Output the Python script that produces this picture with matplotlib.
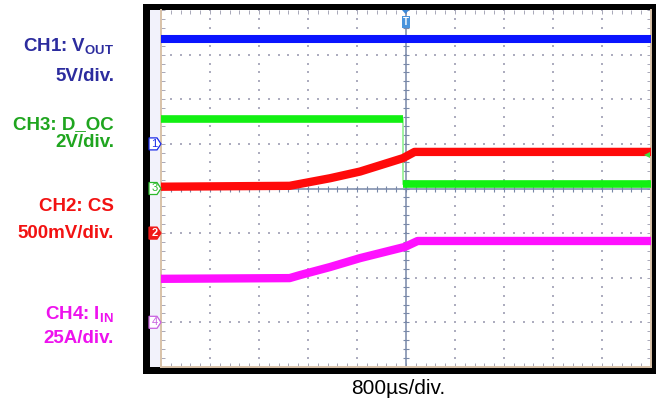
import matplotlib
matplotlib.use("Agg")
import matplotlib.pyplot as plt
import numpy as np
from matplotlib.patches import Rectangle, Polygon

plt.rcParams['font.family'] = ['Liberation Sans', 'DejaVu Sans']
plt.rcParams['mathtext.fontset'] = 'custom'
plt.rcParams['mathtext.rm'] = 'Liberation Sans:bold'
plt.rcParams['mathtext.bf'] = 'Liberation Sans:bold'

# time axis: 800 us/div, 10 div, trigger in the middle
time_per_div = 800
# CH1: VOUT, 5 V/div, ground marker at +1 div
t_ch1 = [-4000, 4000]
v_ch1 = [11.7, 11.7]
# CH3: D_OC, 2 V/div, marker at 0 div
t_ch3_high = [-4000, -48]
v_ch3_high = [3.1, 3.1]
t_ch3_low = [-48, 4000]
v_ch3_low = [0.2, 0.2]
# CH2: CS, 500 mV/div, marker at -1 div
t_ch2 = [-4000, -1900, -1240, -750, -50, 140, 4000]
v_ch2 = [0.52, 0.53, 0.615, 0.69, 0.84, 0.91, 0.91]
# CH4: IIN, 25 A/div, marker at -3 div
t_ch4 = [-4000, -1900, -1730, -1240, -750, -16, 190, 4000]
i_ch4 = [24.4, 24.8, 26.5, 31, 36, 42.3, 45.6, 45.6]

channels = {
    1: dict(offset=1, scale=5, color='#0a14ff', mark='#1a2ae8', fill=False),
    3: dict(offset=0, scale=2, color='#12f012', mark='#2ab82a', fill=False),
    2: dict(offset=-1, scale=0.5, color='#ff0a0a', mark='#f01818', fill=True),
    4: dict(offset=-3, scale=25, color='#ff10ff', mark='#c860e0', fill=False),
}


def to_div(ch, vals):
    c = channels[ch]
    return c['offset'] + np.array(vals) / c['scale']


W, H = 656, 400
fig = plt.figure(figsize=(W / 100, H / 100), dpi=100)


def frect(x0, y0, x1, y1, **kw):
    fig.add_artist(Rectangle((x0 / W, 1 - y1 / H), (x1 - x0) / W, (y1 - y0) / H,
                             transform=fig.transFigure, **kw))


# scope screen frame (behind the axes)
frect(143, 4, 657, 374, color='black', lw=0, zorder=-3)
frect(150, 10, 651, 367, color='white', lw=0, zorder=-2)
frect(150, 10, 161, 367, color='#f2f2fb', lw=0, zorder=-1)

ax = fig.add_axes([161 / W, 1 - 367 / H, 490 / W, 357 / H])
ax.set_xlim(-4000, 4000)
ax.set_ylim(-4, 4)
ax.patch.set_alpha(0)

# graticule dots
grid_col = '#adadbf'
xs_minor = np.arange(-4000, 4001, time_per_div / 5)
ys_minor = np.arange(-4, 4.01, 0.2)
for xm in np.arange(-3200, 3201, time_per_div):
    if xm != 0:
        ax.scatter(np.full(ys_minor.size, xm), ys_minor, s=0.7, marker='s',
                   color=grid_col, lw=0, zorder=1)
for ym in range(-3, 4):
    if ym != 0:
        ax.scatter(xs_minor, np.full(xs_minor.size, ym), s=0.7, marker='s',
                   color=grid_col, lw=0, zorder=1)

# centre cross with ticks
center_col = '#7888a8'
ax.axhline(0, color=center_col, lw=1.1, zorder=2)
ax.axvline(0, color=center_col, lw=1.1, zorder=2)
ax.plot(xs_minor, np.zeros(xs_minor.size), ls='none', marker='|', ms=5,
        mew=0.8, color=center_col, zorder=2)
ax.plot(np.zeros(ys_minor.size), ys_minor, ls='none', marker='_', ms=5,
        mew=0.8, color=center_col, zorder=2)

# edge ticks
ax.set_xticks(np.arange(-4000, 4001, time_per_div))
ax.set_xticks(xs_minor, minor=True)
ax.set_yticks(np.arange(-4, 5, 1))
ax.set_yticks(ys_minor, minor=True)
ax.tick_params(which='both', direction='in', length=3, width=0.7, color='#a8a8b8',
               top=True, right=True, labelbottom=False, labelleft=False)
for side in ['left', 'bottom', 'right']:
    ax.spines[side].set_color('#d9c2a8')
    ax.spines[side].set_linewidth(1.4)
ax.spines['top'].set_visible(False)

# traces
ax.plot(t_ch1, to_div(1, v_ch1), color=channels[1]['color'], lw=5.8,
        solid_capstyle='butt', zorder=4)
ax.plot([t_ch3_high[-1], t_ch3_low[0]], [to_div(3, v_ch3_high)[-1], to_div(3, v_ch3_low)[0]],
        color='#90f090', lw=1.2, zorder=3)
ax.plot(t_ch3_high, to_div(3, v_ch3_high), color=channels[3]['color'], lw=5.5,
        solid_capstyle='butt', zorder=4)
ax.plot(t_ch3_low, to_div(3, v_ch3_low), color=channels[3]['color'], lw=5.5,
        solid_capstyle='butt', zorder=4)
ax.plot(t_ch2, to_div(2, v_ch2), color=channels[2]['color'], lw=6,
        solid_capstyle='butt', solid_joinstyle='round', zorder=5)
ax.plot(t_ch4, to_div(4, i_ch4), color=channels[4]['color'], lw=6,
        solid_capstyle='butt', solid_joinstyle='round', zorder=4)

# trigger level arrow
ax.plot(3930, 0.75, marker='<', ms=4, color='#40e040', mew=0, zorder=6)

# channel markers in the left strip
for ch, c in channels.items():
    py = 188.5 - c['offset'] * 44.6
    pts = [(149, py - 6), (157, py - 6), (161, py), (157, py + 6), (149, py + 6)]
    pts = [(x / W, 1 - y / H) for x, y in pts]
    fig.add_artist(Polygon(pts, closed=True, transform=fig.transFigure,
                           facecolor=c['mark'] if c['fill'] else 'white',
                           edgecolor=c['mark'], lw=0.9, zorder=6))
    fig.text(154.5 / W, 1 - py / H, str(ch), ha='center', va='center', fontsize=8,
             color='white' if c['fill'] else c['mark'],
             fontweight='bold' if c['fill'] else 'normal', zorder=7)

# trigger position marker
tx = 405.5
fig.add_artist(Polygon([((tx - 3.5) / W, 1 - 10 / H), ((tx + 3.5) / W, 1 - 10 / H),
                        (tx / W, 1 - 14 / H)], closed=True, transform=fig.transFigure,
                       color='#3a88d8', lw=0, zorder=6))
frect(tx - 4, 16, tx + 4, 28, color='#4a94dc', lw=0, zorder=6)
fig.text(tx / W, 1 - 22 / H, 'T', ha='center', va='center', fontsize=7,
         color='white', fontweight='bold', zorder=7)

# channel labels
lx = 114 / W
lab = dict(ha='right', va='baseline', fontsize=13.5, fontweight='bold')
fig.text(lx, 1 - 52 / H, r'CH1: V$_{\mathrm{OUT}}$', color='#2c2c9e', **lab)
fig.text(lx, 1 - 81 / H, '5V/div.', color='#2c2c9e', **lab)
fig.text(lx, 1 - 129 / H, 'CH3: D_OC', color='#1fa51f', **lab)
fig.text(lx, 1 - 147 / H, '2V/div.', color='#1fa51f', **lab)
fig.text(lx, 1 - 211 / H, 'CH2: CS', color='#f21212', **lab)
fig.text(lx, 1 - 238 / H, '500mV/div.', color='#f21212', **lab)
fig.text(lx, 1 - 320 / H, r'CH4: I$_{\mathrm{IN}}$', color='#ee12ee', **lab)
fig.text(lx, 1 - 343 / H, '25A/div.', color='#ee12ee', **lab)

fig.text(398.5 / W, 1 - 394 / H, '800µs/div.', ha='center', va='baseline',
         fontsize=15, color='black')

fig.savefig('out.png', dpi=100)
